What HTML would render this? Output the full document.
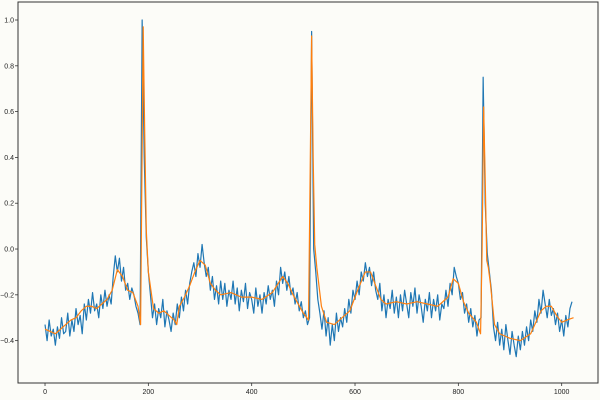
<!DOCTYPE html>
<html><head><meta charset="utf-8"><style>
html,body{margin:0;padding:0;background:#fcfcf8;}
svg{display:block;font-family:"Liberation Sans",sans-serif;}
</style></head><body>
<svg id="chart" width="600" height="400" viewBox="0 0 600 400"></svg>
<script>
const rawX0 = 0, rawStep = 4;
const rawValues = [
-0.33,-0.40,-0.31,-0.38,-0.35,-0.42,-0.34,-0.39,-0.30,-0.37,
-0.36,-0.28,-0.38,-0.31,-0.36,-0.26,-0.33,-0.29,-0.37,-0.24,
-0.31,-0.22,-0.28,-0.19,-0.27,-0.24,-0.30,-0.20,-0.26,-0.18,
-0.25,-0.20,-0.24,-0.12,-0.03,-0.10,-0.04,-0.14,-0.08,-0.18,
-0.15,-0.22,-0.17,-0.20,-0.25,-0.28,-0.33,1.00,0.40,0.05,
-0.10,-0.20,-0.30,-0.24,-0.33,-0.26,-0.30,-0.22,-0.34,-0.27,
-0.31,-0.36,-0.28,-0.33,-0.24,-0.30,-0.21,-0.27,-0.18,-0.24,
-0.15,-0.10,-0.06,-0.12,-0.02,-0.08,0.02,-0.06,-0.12,-0.08,
-0.18,-0.12,-0.22,-0.16,-0.24,-0.14,-0.22,-0.15,-0.25,-0.18,
-0.22,-0.14,-0.24,-0.17,-0.27,-0.18,-0.23,-0.15,-0.26,-0.19,
-0.22,-0.28,-0.17,-0.25,-0.20,-0.28,-0.19,-0.24,-0.16,-0.22,
-0.18,-0.25,-0.14,-0.20,-0.08,-0.15,-0.10,-0.18,-0.12,-0.20,
-0.17,-0.24,-0.19,-0.27,-0.23,-0.30,-0.27,-0.33,-0.30,0.95,
0.00,-0.10,-0.22,-0.28,-0.35,-0.27,-0.38,-0.30,-0.42,-0.33,
-0.40,-0.28,-0.36,-0.30,-0.34,-0.26,-0.32,-0.22,-0.28,-0.18,
-0.22,-0.14,-0.20,-0.10,-0.14,-0.06,-0.12,-0.08,-0.16,-0.10,
-0.18,-0.22,-0.15,-0.27,-0.20,-0.30,-0.22,-0.26,-0.18,-0.28,
-0.21,-0.30,-0.20,-0.27,-0.18,-0.24,-0.30,-0.19,-0.25,-0.17,
-0.28,-0.20,-0.25,-0.32,-0.22,-0.27,-0.19,-0.30,-0.22,-0.27,
-0.20,-0.31,-0.24,-0.26,-0.18,-0.25,-0.15,-0.20,-0.08,-0.12,
-0.15,-0.22,-0.19,-0.28,-0.24,-0.32,-0.26,-0.34,-0.29,-0.38,
-0.31,-0.30,0.75,0.20,-0.02,-0.10,-0.18,-0.34,-0.40,-0.32,
-0.42,-0.35,-0.44,-0.33,-0.40,-0.46,-0.36,-0.42,-0.47,-0.38,
-0.44,-0.36,-0.42,-0.34,-0.40,-0.31,-0.36,-0.27,-0.32,-0.22,
-0.28,-0.18,-0.24,-0.30,-0.22,-0.29,-0.26,-0.33,-0.28,-0.36,
-0.31,-0.38,-0.29,-0.34,-0.26,-0.23];
const smoothX = [0,10,20,30,40,50,60,70,80,90,100,110,120,130,140,150,160,170,180,185,190,193,196,200,210,220,230,240,250,255,260,270,280,290,300,310,320,330,340,360,380,400,420,440,460,470,480,490,500,510,513,516,519,522,526,535,545,560,575,590,605,620,630,640,650,660,680,700,720,740,760,780,790,800,810,820,835,843,846,849,852,855,858,862,870,880,900,920,940,950,960,970,980,990,1000,1010,1023];
const smoothY = [-0.35,-0.36,-0.37,-0.35,-0.33,-0.31,-0.30,-0.27,-0.25,-0.25,-0.26,-0.24,-0.22,-0.18,-0.09,-0.12,-0.18,-0.19,-0.25,-0.33,0.97,0.50,0.08,-0.10,-0.26,-0.28,-0.27,-0.29,-0.31,-0.33,-0.25,-0.21,-0.16,-0.10,-0.05,-0.07,-0.15,-0.18,-0.20,-0.19,-0.21,-0.21,-0.22,-0.19,-0.12,-0.15,-0.20,-0.24,-0.28,-0.31,0.30,0.93,0.40,0.02,-0.08,-0.25,-0.32,-0.33,-0.30,-0.27,-0.18,-0.10,-0.10,-0.16,-0.22,-0.24,-0.23,-0.24,-0.23,-0.24,-0.25,-0.21,-0.13,-0.15,-0.23,-0.28,-0.32,-0.37,0.00,0.62,0.30,-0.05,-0.08,-0.15,-0.33,-0.37,-0.39,-0.40,-0.37,-0.32,-0.27,-0.25,-0.25,-0.29,-0.32,-0.31,-0.30];
const xTicks = [0,200,400,600,800,1000];
const yTicks = [-0.4,-0.2,0.0,0.2,0.4,0.6,0.8,1.0];

const NS="http://www.w3.org/2000/svg";
const svg=document.getElementById('chart');
const L=18,R=598,T=2,B=383;
const xMin=-52.3,xMax=1070.3,yMin=-0.585,yMax=1.0786;
const sx=v=>L+(v-xMin)/(xMax-xMin)*(R-L);
const sy=v=>B-(v-yMin)/(yMax-yMin)*(B-T);
function mk(t,a){const e=document.createElementNS(NS,t);for(const k in a)e.setAttribute(k,a[k]);svg.appendChild(e);return e;}

const frame=mk('rect',{x:L,y:T,width:R-L,height:B-T,fill:'none',stroke:'#333',"stroke-width":1});



xTicks.forEach(t=>{
  const l=mk('line',{x1:sx(t),x2:sx(t),y1:B,y2:B+3,stroke:'#333',"stroke-width":0.8});
  
  
  const tx=mk('text',{x:sx(t),y:B+11,"font-size":7,"text-anchor":"middle",fill:'#222'});
  tx.textContent=String(t);
  
  
});
yTicks.forEach(t=>{
  const l=mk('line',{x1:L-3,x2:L,y1:sy(t),y2:sy(t),stroke:'#333',"stroke-width":0.8});
  
  
  const tx=mk('text',{x:L-4,y:sy(t)+2.5,"font-size":7,"text-anchor":"end",fill:'#222'});
  tx.textContent=(t<0?'\u22120':'')+Math.abs(t).toFixed(1).replace(/^0/,'')==='.0'?'0.0':(t<0?'\u2212':'')+Math.abs(t).toFixed(1);
  
  
});

const rawPts=rawValues.map((v,i)=>sx(rawX0+i*rawStep).toFixed(2)+','+sy(v).toFixed(2)).join(' ');
const raw=mk('polyline',{points:rawPts,fill:'none',stroke:'#1f77b4',"stroke-width":1.2,"stroke-linejoin":"round"});



const smPts=smoothX.map((x,i)=>sx(x).toFixed(2)+','+sy(smoothY[i]).toFixed(2)).join(' ');
const sm=mk('polyline',{points:smPts,fill:'none',stroke:'#ff7f0e',"stroke-width":1.2,"stroke-linejoin":"round"});


</script>
</body></html>
